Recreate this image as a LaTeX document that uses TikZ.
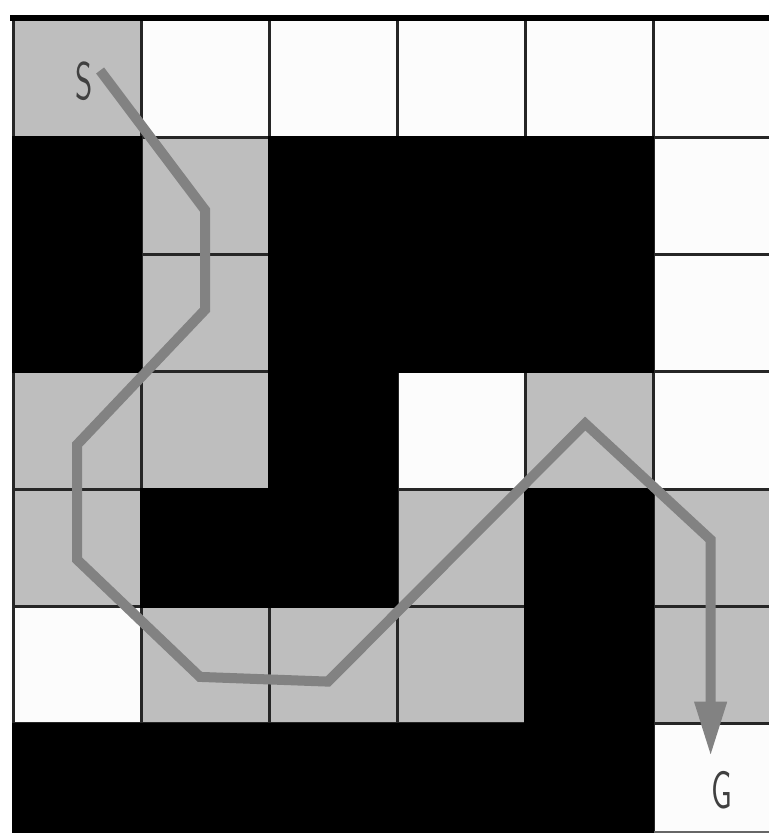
\documentclass[tikz,border=0pt]{standalone}
\usetikzlibrary{arrows.meta}
\definecolor{cellG}{RGB}{190,190,190}
\definecolor{cellW}{RGB}{252,252,252}
\definecolor{cellB}{RGB}{0,0,0}
\definecolor{RouteGray}{RGB}{130,130,130}
% maze rows, top to bottom (G = visited, W = free, B = wall)
\def\mazerows{{G,W,W,W,W,W},
              {B,G,B,B,B,W},
              {B,G,B,B,B,W},
              {G,G,B,W,G,W},
              {G,B,B,G,B,G},
              {W,G,G,G,B,G},
              {B,B,B,B,B,W}}
\begin{document}
\begin{tikzpicture}[x=1.28cm, y=-1.173cm,
    gridline/.style={draw=black!85, line width=0.85pt},
    route/.style={draw=RouteGray, line width=2.85pt, line join=miter},
    tip/.style={-{Triangle[width=3mm,length=5.5mm]}},
    endpt/.style={font=\sffamily\fontsize{15}{15}\selectfont, text=black!75, xscale=0.6, inner sep=0pt},
  ]
  \useasboundingbox[fill=white] (-0.102,-0.171) rectangle (5.906,6.982);

  \begin{scope}
    \clip (-0.05,-0.1) rectangle (5.906,6.93);
    % ─ Free and visited cells ─
    \foreach \cells [count=\r from 0] in \mazerows
      \foreach \c [count=\col from 0] in \cells
        \fill[fill=cell\c] (\col,\r) rectangle ++(1,1);

    % ─ Grid ─
    \foreach \x in {0,...,6}
      \draw[gridline] (\x,0) -- (\x,6.93);
    \foreach \y in {1,...,6}
      \draw[gridline] (0,\y) -- (5.906,\y);
    \draw[gridline, draw=black!60] (0,6.93) -- (5.906,6.93);

    % ─ Walls on top, so they merge ─
    \foreach \cells [count=\r from 0] in \mazerows
      \foreach \c [count=\col from 0] in \cells
        {\if\c B \fill[cellB] (\col-0.01,\r-0.01) rectangle ++(1.02,1.02);\fi}

    \draw[black, line width=1.7pt] (-0.02,-0.02) -- (5.906,-0.02);
  \end{scope}

  % ─ Start and goal ─
  \node[endpt] (s) at (0.555,0.52) {S};
  \node[endpt] (g) at (5.54,6.57)  {G};

  % ─ Route waypoints ─
  \coordinate (r0) at (0.68,0.43);
  \coordinate (r1) at (1.50,1.62);
  \coordinate (r2) at (1.50,2.47);
  \coordinate (r3) at (0.50,3.62);
  \coordinate (r4) at (0.50,4.60);
  \coordinate (r5) at (1.46,5.60);
  \coordinate (r6) at (2.46,5.64);
  \coordinate (r7) at (4.47,3.44);
  \coordinate (r8) at (5.45,4.43);
  \coordinate (r9) at (5.45,6.28);

  \draw[route, tip] (r0) -- (r1) -- (r2) -- (r3) -- (r4) -- (r5) -- (r6) -- (r7) -- (r8) -- (r9);
\end{tikzpicture}
\end{document}
